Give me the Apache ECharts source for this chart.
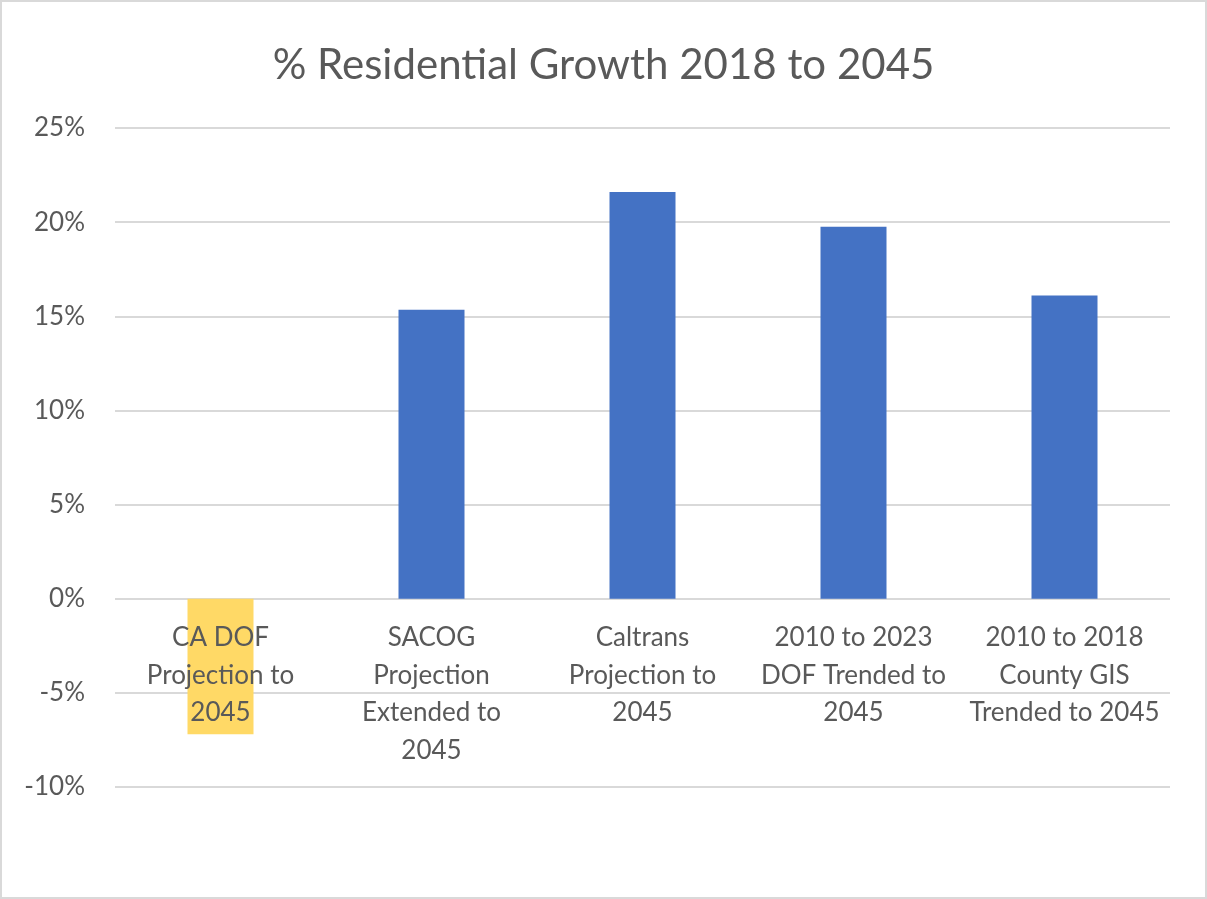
<!DOCTYPE html>
<html>
<head>
<meta charset="utf-8">
<script src="https://cdn.jsdelivr.net/npm/echarts@6/dist/echarts.min.js"></script>
<style>
html,body{margin:0;padding:0;background:#fff;}
#frame{position:absolute;left:0;top:0;width:1203px;height:895px;border:2px solid #d9d9d9;background:#fff;}
#chart{position:absolute;left:0;top:0;width:1207px;height:899px;}
</style>
</head>
<body>
<div id="frame"></div>
<div id="chart"></div>
<script>
const titleText = '% Residential Growth 2018 to 2045';
const categories = [
  'CA DOF\nProjection to\n2045',
  'SACOG\nProjection\nExtended to\n2045',
  'Caltrans\nProjection to\n2045',
  '2010 to 2023\nDOF Trended to\n2045',
  '2010 to 2018\nCounty GIS\nTrended to 2045'
];
const values = [-7.2, 15.35, 21.6, 19.75, 16.1];
const barColors = ['#FFD966', '#4472C4', '#4472C4', '#4472C4', '#4472C4'];
const yTicks = { min: -10, max: 25, interval: 5 };

const chart = echarts.init(document.getElementById('chart'), null, {renderer: 'canvas'});
const font = 'Lato, "Open Sans", sans-serif';
const option = {
  animation: false,
  backgroundColor: 'transparent',
  title: {
    text: titleText, left: 'center', top: 39,
    textStyle: {fontFamily: font, fontSize: 42, fontWeight: 'normal', color: '#595959'}
  },
  grid: {left: 115, right: 37, top: 128, bottom: 112, containLabel: false, outerBoundsMode: 'none'},
  xAxis: {
    type: 'category', data: categories, z: 10, offset: 0,
    axisLine: {show: false}, axisTick: {show: false},
    axisLabel: {
      interval: 0, margin: 20, fontFamily: font, fontSize: 26, lineHeight: 37.7,
      color: '#595959', align: 'center', verticalAlign: 'top'
    }
  },
  yAxis: {
    type: 'value', min: yTicks.min, max: yTicks.max, interval: yTicks.interval,
    axisLine: {show: false}, axisTick: {show: false},
    axisLabel: {formatter: '{value}%', margin: 30, fontFamily: font, fontSize: 26, color: '#595959'},
    splitLine: {lineStyle: {color: '#d9d9d9', width: 2}}
  },
  series: [{
    type: 'bar', barWidth: 66, z: 2,
    data: values.map((v, i) => ({value: v, itemStyle: {color: barColors[i]}}))
  }]
};
chart.setOption(option);
// Move category labels up to the zero line (Excel-style), measured through the value axis
const yBottom = chart.convertToPixel({yAxisIndex: 0}, yTicks.min);
const yZero = chart.convertToPixel({yAxisIndex: 0}, 0);
chart.setOption({xAxis: {offset: -(yBottom - yZero)}});
</script>
</body>
</html>
